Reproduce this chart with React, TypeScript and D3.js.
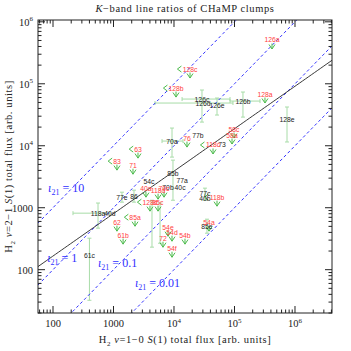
import React from 'react';
import * as d3 from 'd3';

const width = 351;
const height = 351;
const margin = { top: 20, right: 19, bottom: 38, left: 38 };

// axis extents
const xDomain = [56.5, 4.09e6];
const yDomain = [20, 1.07e6];
const decadeTicks = [100, 1000, 1e4, 1e5, 1e6];
const decadeLabels = [['100', ''], ['1000', ''], ['10', '4'], ['10', '5'], ['10', '6']];

// detected clumps: label, 1-0 S(1) flux, 2-1 S(1) flux
const detLabels = ['126c', '126d', '126e', '126b', '128e', '77b', '70a', '73', '85b', '54c', '77a', '70b', '40c', '77c', '40b', '77e', '86', '118a', '40d', '61c', '85e'];
const detX = [29000, 30100, 51400, 138000, 738000, 24900, 9270, 62100, 9620, 3860, 13600, 7960, 12600, 32500, 32500, 1380, 2180, 555, 875, 400, 35100];
const detY = [56700, 48900, 45400, 52600, 27000, 14900, 11900, 10600, 3610, 2690, 2790, 2150, 2150, 1720, 1430, 1480, 1540, 817, 817, 171, 504];
const detXErr = [[13600, 84300], [4850, 94400], null, [84300, 264000], null, null, [6340, 14100], null, null, null, null, null, null, null, null, null, null, [214, 875], null, null, null];
const detYErr = [[24100, 79300], null, [31300, 58900], [29000, 73600], [11500, 42200], null, [6560, 19300], null, [1320, 5860], null, null, null, null, [1320, 2070], null, [1230, 1780], [1230, 1920], [468, 1190], null, [32.1, 322], [388, 653]];

// upper limits in 2-1 S(1) (and in 1-0 S(1) where xUpper)
const limLabels = ['126a', '128a', '128c', '128b', '76', '58c', '58a', '118c', '63', '83', '71', '40a', '118d', '70c', '128d', '85c', '85a', '62', '61b', '54e', '54d', '72', '54f', '54b', '118b', '54a'];
const limX = [417000, 319000, 18400, 10800, 16400, 98200, 91000, 44200, 2540, 1140, 2100, 3440, 5450, 6840, 4010, 5450, 2270, 1140, 1440, 7960, 9270, 6580, 9270, 15200, 51400, 37900];
const limY = [509000, 68400, 173000, 85300, 13300, 18600, 14900, 10300, 8830, 5650, 4860, 2070, 1920, 2070, 1230, 1230, 703, 585, 361, 485, 403, 322, 222, 361, 1480, 585];
const limXUpper = [false, false, true, true, false, false, false, true, true, true, false, false, false, false, true, false, true, false, false, false, false, false, false, false, true, false];
const limYErr = [null, null, null, null, null, null, null, null, null, null, null, null, null, null, [231, 1320], [267, 1190], null, null, null, null, null, null, null, null, null, null];

// constant iota_21 lines and their labels
const iotaValues = [10, 1, 0.1, 0.01];
const iotaText = ['10', '1', '0.1', '0.01'];
const iotaLabelX = [83, 80, 555, 2265];
const iotaLabelY = [1780, 132, 110, 52];

// power-law fit: log y = a + b log x
const fitIntercept = 0.85;
const fitSlope = 0.685;

const App = () => {
  const x = d3.scaleLog().domain(xDomain).range([margin.left, width - margin.right]);
  const y = d3.scaleLog().domain(yDomain).range([height - margin.bottom, margin.top]);
  const x0 = margin.left, x1 = width - margin.right;
  const y0 = height - margin.bottom, y1 = margin.top;

  const minorTicks = (dom) => {
    const out = [];
    for (let e = Math.floor(Math.log10(dom[0])); e <= Math.ceil(Math.log10(dom[1])); e++) {
      for (let m = 1; m <= 9; m++) {
        const v = m * Math.pow(10, e);
        if (v >= dom[0] && v <= dom[1]) out.push({ v, major: m === 1 });
      }
    }
    return out;
  };

  const line = d3.line().x(d => x(d[0])).y(d => y(d[1]));
  const xs = d3.range(0, 101).map(i => xDomain[0] * Math.pow(xDomain[1] / xDomain[0], i / 100));

  const errColor = '#a8dca8';
  const arrowColor = '#4cbb4c';
  const labelFont = 'Liberation Sans, Arial, sans-serif';
  const serif = 'Liberation Serif, DejaVu Serif, serif';

  const errBar = (key, xa, ya, xb, yb, vertical) => {
    const c = 2;
    return (
      <g key={key} stroke={errColor} strokeWidth={1}>
        <line x1={xa} y1={ya} x2={xb} y2={yb} />
        {vertical ? (
          <>
            <line x1={xa - c} y1={ya} x2={xa + c} y2={ya} />
            <line x1={xb - c} y1={yb} x2={xb + c} y2={yb} />
          </>
        ) : (
          <>
            <line x1={xa} y1={ya - c} x2={xa} y2={ya + c} />
            <line x1={xb} y1={yb - c} x2={xb} y2={yb + c} />
          </>
        )}
      </g>
    );
  };

  return (
    <svg width={width} height={height} style={{ position: 'absolute', left: 0, top: 0, background: '#fff' }}>
      <defs>
        <clipPath id="plot">
          <rect x={x0} y={y1} width={x1 - x0} height={y0 - y1} />
        </clipPath>
      </defs>

      {/* error bars */}
      <g clipPath="url(#plot)">
        {detLabels.map((d, i) => (
          <g key={d}>
            {detXErr[i] && errBar('x' + d, x(detXErr[i][0]), y(detY[i]), x(detXErr[i][1]), y(detY[i]), false)}
            {detYErr[i] && errBar('y' + d, x(detX[i]), y(detYErr[i][0]), x(detX[i]), y(detYErr[i][1]), true)}
          </g>
        ))}
        {limLabels.map((d, i) => limYErr[i] && errBar('ly' + d, x(limX[i]) + 2, y(limYErr[i][0]), x(limX[i]) + 2, y(limYErr[i][1]), true))}
      </g>

      {/* iota_21 lines and fit */}
      <g clipPath="url(#plot)" fill="none">
        {iotaValues.map(k => (
          <path key={k} d={line(xs.map(v => [v, v * k]))} stroke="#3030ff" strokeWidth={1} strokeDasharray="3,2.5" />
        ))}
        <path d={line(xs.map(v => [v, Math.pow(10, fitIntercept + fitSlope * Math.log10(v))]))} stroke="#222" strokeWidth={0.9} />
      </g>

      {/* upper limit arrows */}
      <g stroke={arrowColor} strokeWidth={1} fill="none">
        {limLabels.map((d, i) => {
          const px = x(limX[i]), py = y(limY[i]);
          const tw = d.length * 3.8;
          return (
            <g key={d}>
              <path d={`M${px - 3},${py + 4.5} L${px},${py + 9} L${px + 3},${py + 4.5} M${px},${py + 3.5} L${px},${py + 9}`} />
              {limXUpper[i] && (
                <path d={`M${px - tw / 2 - 1},${py - 3} L${px - tw / 2 - 5},${py} L${px - tw / 2 - 1},${py + 3}`} />
              )}
            </g>
          );
        })}
      </g>

      {/* point labels */}
      <g fontFamily={labelFont} fontSize={6.8} textAnchor="middle" dominantBaseline="central">
        {detLabels.map((d, i) => (
          <text key={d} x={x(detX[i])} y={y(detY[i])} fill="#222">{d}</text>
        ))}
        {limLabels.map((d, i) => (
          <text key={d} x={x(limX[i])} y={y(limY[i])} fill="#ff4040">{d}</text>
        ))}
      </g>

      {/* iota labels */}
      <g fontFamily={serif} fontSize={12} fill="#3030ff">
        {iotaText.map((t, i) => (
          <text key={t} x={x(iotaLabelX[i])} y={y(iotaLabelY[i])}>
            <tspan fontStyle="italic">ι</tspan>
            <tspan fontSize={8} dy={3}>21</tspan>
            <tspan dy={-3}>{' = ' + t}</tspan>
          </text>
        ))}
      </g>

      {/* frame and ticks */}
      <rect x={x0} y={y1} width={x1 - x0} height={y0 - y1} fill="none" stroke="#222" strokeWidth={1} />
      <g stroke="#222" strokeWidth={1}>
        {minorTicks(xDomain).map(t => {
          const len = t.major ? 7 : 3.5;
          const px = x(t.v);
          return (
            <g key={'xt' + t.v}>
              <line x1={px} y1={y0} x2={px} y2={y0 - len} />
              <line x1={px} y1={y1} x2={px} y2={y1 + len} />
            </g>
          );
        })}
        {minorTicks(yDomain).map(t => {
          const len = t.major ? 7 : 3.5;
          const py = y(t.v);
          return (
            <g key={'yt' + t.v}>
              <line x1={x0} y1={py} x2={x0 + len} y2={py} />
              <line x1={x1} y1={py} x2={x1 - len} y2={py} />
            </g>
          );
        })}
      </g>

      {/* tick labels */}
      <g fontFamily={serif} fontSize={10.5} fill="#222">
        {decadeTicks.map((v, i) => (
          <text key={'xl' + v} x={x(v)} y={y0 + 14} textAnchor="middle">
            {decadeLabels[i][0]}
            {decadeLabels[i][1] && <tspan fontSize={7} dy={-4.5}>{decadeLabels[i][1]}</tspan>}
          </text>
        ))}
        {decadeTicks.map((v, i) => (
          <text key={'yl' + v} x={x0 - 5} y={y(v) + 4} textAnchor="end">
            {decadeLabels[i][0]}
            {decadeLabels[i][1] && <tspan fontSize={7} dy={-4.5}>{decadeLabels[i][1]}</tspan>}
          </text>
        ))}
      </g>

      {/* titles */}
      <g fontFamily={serif} fontSize={10.5} fill="#222" letterSpacing={0.6}>
        <text x={(x0 + x1) / 2} y={12} textAnchor="middle">
          <tspan fontStyle="italic">K</tspan>−band line ratios of CHaMP clumps
        </text>
        <text x={(x0 + x1) / 2} y={y0 + 30} textAnchor="middle">
          H<tspan fontSize={7} dy={3}>2</tspan><tspan dy={-3}> </tspan>
          <tspan fontStyle="italic">v</tspan>=1−0 <tspan fontStyle="italic">S</tspan>(1) total flux [arb. units]
        </text>
        <text transform={`translate(12,${(y0 + y1) / 2}) rotate(-90)`} textAnchor="middle">
          H<tspan fontSize={7} dy={3}>2</tspan><tspan dy={-3}> </tspan>
          <tspan fontStyle="italic">v</tspan>=2−1 <tspan fontStyle="italic">S</tspan>(1) total flux [arb. units]
        </text>
      </g>
    </svg>
  );
};

export default App;
